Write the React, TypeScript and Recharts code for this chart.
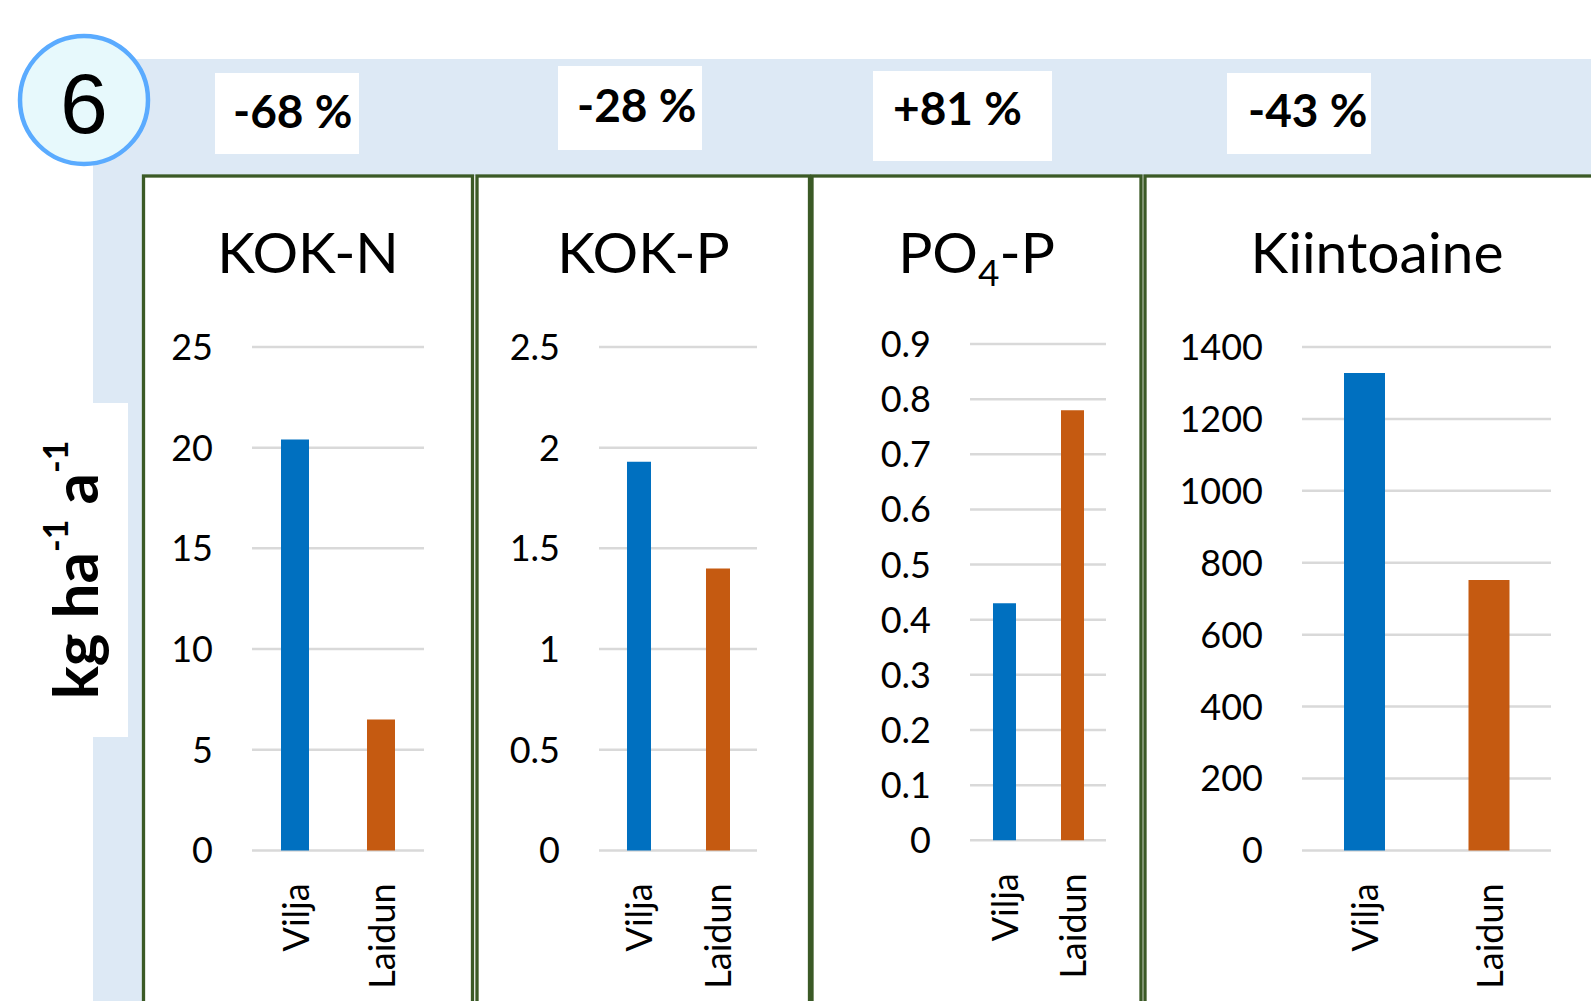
import React from "react";
import { BarChart, Bar, XAxis, YAxis, CartesianGrid, Cell } from "recharts";

const categories = ["Vilja", "Laidun"];
const barColors = ["#0070c0", "#c55a11"];

const kokN = [20.4, 6.5];
const kokP = [1.93, 1.4];
const po4P = [0.43, 0.78];
const kiintoaine = [1328, 752];

const kokNTicks = [0, 5, 10, 15, 20, 25];
const kokPTicks = [0, 0.5, 1, 1.5, 2, 2.5];
const po4PTicks = [0, 0.1, 0.2, 0.3, 0.4, 0.5, 0.6, 0.7, 0.8, 0.9];
const kiintoaineTicks = [0, 200, 400, 600, 800, 1000, 1200, 1400];

const changes = ["-68 %", "-28 %", "+81 %", "-43 %"];

const FONT = "Lato, 'Open Sans', sans-serif";
const BAND = "#dde9f5";
const GREEN = "#3b5a26";

const Y_W = 160;
const X_H = 150;
const M_TOP = 40;
const M_RIGHT = 10;

type ChartProps = {
  values: number[];
  ticks: number[];
  left: number;
  right: number;
  top: number;
  bottom: number;
  barSize: number;
};

function YTick(props: any) {
  const { x, y, payload } = props;
  return (
    <text
      x={x - 39}
      y={y}
      dy="0.36em"
      textAnchor="end"
      fontFamily={FONT}
      fontSize={36}
      fill="#000"
    >
      {String(payload.value)}
    </text>
  );
}

function XTick(props: any) {
  const { x, y, payload } = props;
  const ty = y + 33;
  return (
    <text
      x={x}
      y={ty}
      transform={`rotate(-90, ${x}, ${ty})`}
      textAnchor="end"
      dominantBaseline="central"
      fontFamily={FONT}
      fontSize={36}
      fill="#000"
    >
      {payload.value}
    </text>
  );
}

function MiniChart({ values, ticks, left, right, top, bottom, barSize }: ChartProps) {
  const data = categories.map((name, i) => ({ name, value: values[i] }));
  const width = right - left + Y_W + M_RIGHT;
  const height = bottom - top + M_TOP + X_H;
  return (
    <div style={{ position: "absolute", left: left - Y_W, top: top - M_TOP }}>
      <BarChart
        width={width}
        height={height}
        data={data}
        margin={{ top: M_TOP, right: M_RIGHT, bottom: 0, left: 0 }}
      >
        <CartesianGrid vertical={false} stroke="#d9d9d9" strokeWidth={2.5} />
        <XAxis
          dataKey="name"
          height={X_H}
          interval={0}
          axisLine={false}
          tickLine={false}
          tickSize={0}
          tickMargin={0}
          tick={<XTick />}
        />
        <YAxis
          type="number"
          width={Y_W}
          domain={[0, ticks[ticks.length - 1]]}
          ticks={ticks}
          interval={0}
          axisLine={false}
          tickLine={false}
          tickSize={0}
          tickMargin={0}
          tick={<YTick />}
        />
        <Bar dataKey="value" barSize={barSize} isAnimationActive={false}>
          {data.map((d, i) => (
            <Cell key={d.name} fill={barColors[i]} />
          ))}
        </Bar>
      </BarChart>
    </div>
  );
}

// panel frames: left / right border x
const frames = [
  [143.5, 472.5],
  [477, 809.5],
  [812, 1141],
  [1145, 1640],
];

// white boxes round the change labels
const boxes = [
  { x: 215, y: 73, w: 144, h: 81, tx: 233, ty: 128 },
  { x: 558, y: 66, w: 144, h: 84, tx: 577, ty: 122 },
  { x: 873, y: 71, w: 179, h: 90, tx: 893, ty: 125 },
  { x: 1227, y: 73, w: 144, h: 81, tx: 1248, ty: 127 },
];

export default function App() {
  return (
    <div
      style={{
        position: "absolute",
        left: 0,
        top: 0,
        width: 1591,
        height: 1001,
        overflow: "hidden",
        background: "#fff",
      }}
    >
      <svg width={1591} height={1001} style={{ position: "absolute", left: 0, top: 0 }}>
        <rect x={93} y={59} width={1498} height={117} fill={BAND} />
        <rect x={93} y={59} width={50} height={942} fill={BAND} />
        <rect x={93} y={403} width={35} height={334} fill="#fff" />

        {frames.map(([l, r], i) => (
          <rect
            key={i}
            x={l}
            y={176}
            width={r - l}
            height={900}
            fill="#fff"
            stroke={GREEN}
            strokeWidth={3.3}
          />
        ))}

        {boxes.map((b, i) => (
          <g key={i}>
            <rect x={b.x} y={b.y} width={b.w} height={b.h} fill="#fff" />
            <text
              x={b.tx}
              y={b.ty}
              fontFamily={FONT}
              fontWeight={700}
              fontSize={46}
              fill="#000"
            >
              {changes[i]}
            </text>
          </g>
        ))}

        <circle cx={84} cy={100} r={64} fill="#e7f9fc" stroke="#5aabff" strokeWidth={4.5} />
        <text
          x={84}
          y={133}
          textAnchor="middle"
          fontFamily="'Liberation Sans', Arial, sans-serif"
          fontSize={86}
          fill="#000"
        >
          6
        </text>

        <text
          x={98}
          y={570}
          transform="rotate(-90, 98, 570)"
          textAnchor="middle"
          fontFamily={FONT}
          fontWeight={700}
          fontSize={62}
          fill="#000"
        >
          kg ha
          <tspan fontSize={34} dy={-30}>-1</tspan>
          <tspan dy={30}> a</tspan>
          <tspan fontSize={34} dy={-30}>-1</tspan>
        </text>

        <g fontFamily={FONT} fontSize={57} fill="#000" textAnchor="middle">
          <text x={308} y={273}>KOK-N</text>
          <text x={643.5} y={273}>KOK-P</text>
          <text x={976.5} y={273}>
            PO<tspan fontSize={37} dy={13}>4</tspan>
            <tspan dy={-13}>-P</tspan>
          </text>
          <text x={1377} y={273}>Kiintoaine</text>
        </g>
      </svg>

      <MiniChart values={kokN} ticks={kokNTicks} left={252} right={424} top={347.3} bottom={850.7} barSize={28} />
      <MiniChart values={kokP} ticks={kokPTicks} left={599} right={757} top={347.3} bottom={850.7} barSize={24} />
      <MiniChart values={po4P} ticks={po4PTicks} left={970} right={1106} top={343.7} bottom={840} barSize={23} />
      <MiniChart values={kiintoaine} ticks={kiintoaineTicks} left={1302} right={1551} top={347.3} bottom={850.7} barSize={41} />
    </div>
  );
}
